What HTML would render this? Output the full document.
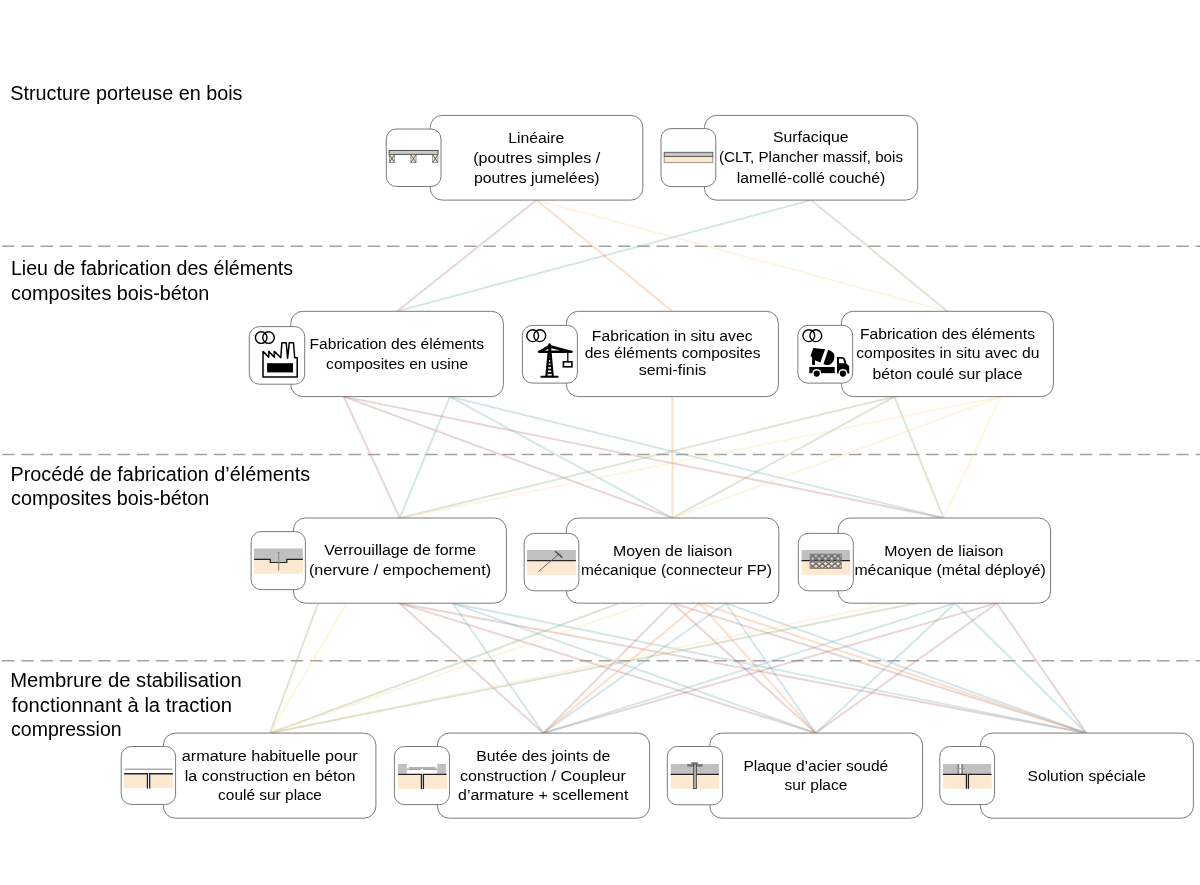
<!DOCTYPE html>
<html><head><meta charset="utf-8"><title>Diagram</title><style>
html,body{margin:0;padding:0;background:#fff;width:1200px;height:885px;overflow:hidden;}
svg{display:block;will-change:transform;}
text{font-family:"Liberation Sans",sans-serif;fill:#000;}
</style></head><body>
<svg width="1200" height="885" viewBox="0 0 1200 885">
<rect width="1200" height="885" fill="#fff"/>

<line x1="2" y1="246.3" x2="1200" y2="246.3" stroke="#a2a2a2" stroke-width="1.5" stroke-dasharray="12.5 6.75"/>
<line x1="2" y1="454.6" x2="1200" y2="454.6" stroke="#a2a2a2" stroke-width="1.5" stroke-dasharray="12.5 6.75"/>
<line x1="2" y1="660.7" x2="1200" y2="660.7" stroke="#a2a2a2" stroke-width="1.5" stroke-dasharray="12.5 6.75"/>
<g stroke-width="1.9" stroke-opacity="0.3" fill="none">
<line x1="536.5" y1="200.1" x2="397.1" y2="311.3" stroke="rgb(182,112,112)"/>
<line x1="536.5" y1="200.1" x2="672.4" y2="311.3" stroke="rgb(242,145,72)"/>
<line x1="536.5" y1="200.1" x2="947.4" y2="311.3" stroke="rgb(255,218,150)"/>
<line x1="811.1" y1="200.1" x2="397.1" y2="311.3" stroke="rgb(112,168,185)"/>
<line x1="811.1" y1="200.1" x2="947.4" y2="311.3" stroke="rgb(138,168,112)"/>
<line x1="343.7" y1="396.6" x2="399.8" y2="518.0" stroke="rgb(182,112,112)"/>
<line x1="343.7" y1="396.6" x2="672.4" y2="518.0" stroke="rgb(182,112,112)"/>
<line x1="343.7" y1="396.6" x2="943.5" y2="518.0" stroke="rgb(182,112,112)"/>
<line x1="449.8" y1="396.6" x2="399.8" y2="518.0" stroke="rgb(112,168,185)"/>
<line x1="449.8" y1="396.6" x2="672.4" y2="518.0" stroke="rgb(112,168,185)"/>
<line x1="449.8" y1="396.6" x2="943.5" y2="518.0" stroke="rgb(112,168,185)"/>
<line x1="894.4" y1="396.6" x2="399.8" y2="518.0" stroke="rgb(138,168,112)"/>
<line x1="894.4" y1="396.6" x2="672.4" y2="518.0" stroke="rgb(138,168,112)"/>
<line x1="894.4" y1="396.6" x2="943.5" y2="518.0" stroke="rgb(138,168,112)"/>
<line x1="1000.8" y1="396.6" x2="399.8" y2="518.0" stroke="rgb(255,218,150)"/>
<line x1="1000.8" y1="396.6" x2="672.4" y2="518.0" stroke="rgb(255,218,150)"/>
<line x1="1000.8" y1="396.6" x2="943.5" y2="518.0" stroke="rgb(255,218,150)"/>
<line x1="672.4" y1="396.6" x2="672.4" y2="518.0" stroke="rgb(242,145,72)"/>
<line x1="318.1" y1="603.2" x2="270.0" y2="733.1" stroke="rgb(138,168,112)"/>
<line x1="346.7" y1="603.2" x2="270.0" y2="733.1" stroke="rgb(255,218,150)"/>
<line x1="399.6" y1="603.2" x2="543.4" y2="733.1" stroke="rgb(182,112,112)"/>
<line x1="399.6" y1="603.2" x2="815.7" y2="733.1" stroke="rgb(182,112,112)"/>
<line x1="399.6" y1="603.2" x2="1086.3" y2="733.1" stroke="rgb(182,112,112)"/>
<line x1="452.7" y1="603.2" x2="543.4" y2="733.1" stroke="rgb(112,168,185)"/>
<line x1="452.7" y1="603.2" x2="815.7" y2="733.1" stroke="rgb(112,168,185)"/>
<line x1="452.7" y1="603.2" x2="1086.3" y2="733.1" stroke="rgb(112,168,185)"/>
<line x1="619.4" y1="603.2" x2="270.0" y2="733.1" stroke="rgb(138,168,112)"/>
<line x1="647.2" y1="603.2" x2="270.0" y2="733.1" stroke="rgb(255,218,150)"/>
<line x1="672.7" y1="603.2" x2="543.4" y2="733.1" stroke="rgb(182,112,112)"/>
<line x1="672.7" y1="603.2" x2="815.7" y2="733.1" stroke="rgb(182,112,112)"/>
<line x1="672.7" y1="603.2" x2="1086.3" y2="733.1" stroke="rgb(182,112,112)"/>
<line x1="699.4" y1="603.2" x2="543.4" y2="733.1" stroke="rgb(242,145,72)"/>
<line x1="699.4" y1="603.2" x2="815.7" y2="733.1" stroke="rgb(242,145,72)"/>
<line x1="699.4" y1="603.2" x2="1086.3" y2="733.1" stroke="rgb(242,145,72)"/>
<line x1="725.8" y1="603.2" x2="543.4" y2="733.1" stroke="rgb(112,168,185)"/>
<line x1="725.8" y1="603.2" x2="815.7" y2="733.1" stroke="rgb(112,168,185)"/>
<line x1="725.8" y1="603.2" x2="1086.3" y2="733.1" stroke="rgb(112,168,185)"/>
<line x1="890.4" y1="603.2" x2="270.0" y2="733.1" stroke="rgb(255,218,150)"/>
<line x1="916.3" y1="603.2" x2="270.0" y2="733.1" stroke="rgb(138,168,112)"/>
<line x1="955.0" y1="603.2" x2="543.4" y2="733.1" stroke="rgb(112,168,185)"/>
<line x1="955.0" y1="603.2" x2="815.7" y2="733.1" stroke="rgb(112,168,185)"/>
<line x1="955.0" y1="603.2" x2="1086.3" y2="733.1" stroke="rgb(112,168,185)"/>
<line x1="996.8" y1="603.2" x2="543.4" y2="733.1" stroke="rgb(182,112,112)"/>
<line x1="996.8" y1="603.2" x2="815.7" y2="733.1" stroke="rgb(182,112,112)"/>
<line x1="996.8" y1="603.2" x2="1086.3" y2="733.1" stroke="rgb(182,112,112)"/>
</g>
<g fill="#fff" stroke="#7a7a7a" stroke-width="1">
<rect x="430.2" y="115.4" width="212.70" height="84.70" rx="12" ry="12"/>
<rect x="386.3" y="129.0" width="54.70" height="57.50" rx="10" ry="10"/>
<rect x="704.5" y="115.4" width="213.20" height="84.70" rx="12" ry="12"/>
<rect x="661.0" y="128.6" width="54.80" height="58.00" rx="10" ry="10"/>
<rect x="290.8" y="311.3" width="212.60" height="85.30" rx="12" ry="12"/>
<rect x="249.3" y="326.6" width="55.40" height="57.60" rx="10" ry="10"/>
<rect x="566.4" y="311.3" width="212.00" height="85.30" rx="12" ry="12"/>
<rect x="522.4" y="325.4" width="55.00" height="57.70" rx="10" ry="10"/>
<rect x="841.4" y="311.3" width="212.00" height="85.30" rx="12" ry="12"/>
<rect x="797.9" y="325.4" width="54.80" height="57.70" rx="10" ry="10"/>
<rect x="293.4" y="518.0" width="213.00" height="85.20" rx="12" ry="12"/>
<rect x="251.1" y="531.6" width="54.30" height="58.00" rx="10" ry="10"/>
<rect x="566.4" y="518.0" width="212.50" height="85.20" rx="12" ry="12"/>
<rect x="524.2" y="533.4" width="54.70" height="57.40" rx="10" ry="10"/>
<rect x="838.1" y="518.0" width="212.50" height="85.20" rx="12" ry="12"/>
<rect x="798.3" y="533.4" width="55.00" height="57.40" rx="10" ry="10"/>
<rect x="163.4" y="733.1" width="212.50" height="85.10" rx="12" ry="12"/>
<rect x="121.2" y="746.5" width="54.40" height="57.90" rx="10" ry="10"/>
<rect x="437.4" y="733.1" width="212.20" height="85.10" rx="12" ry="12"/>
<rect x="394.4" y="746.5" width="55.10" height="58.10" rx="10" ry="10"/>
<rect x="709.8" y="733.1" width="212.80" height="85.10" rx="12" ry="12"/>
<rect x="667.3" y="746.5" width="55.30" height="58.30" rx="10" ry="10"/>
<rect x="980.4" y="733.1" width="213.00" height="85.10" rx="12" ry="12"/>
<rect x="939.8" y="746.5" width="54.70" height="58.10" rx="10" ry="10"/>
</g>
<!-- R1 icon 1: beams -->
<g>
<rect x="389.1" y="150.4" width="49" height="4" fill="#c8c8c8" stroke="#444" stroke-width="0.9"/>
<g fill="#f5e0c6" stroke="#666" stroke-width="0.6">
<rect x="389.3" y="154.6" width="5.2" height="8"/>
<rect x="410.9" y="154.6" width="5.2" height="8"/>
<rect x="432.7" y="154.6" width="5.2" height="8"/>
</g>
<g stroke="#333" stroke-width="0.7">
<path d="M389.3,154.6 L394.5,162.6 M394.5,154.6 L389.3,162.6"/>
<path d="M410.9,154.6 L416.1,162.6 M416.1,154.6 L410.9,162.6"/>
<path d="M432.7,154.6 L437.9,162.6 M437.9,154.6 L432.7,162.6"/>
</g>
</g>
<!-- R1 icon 2: slab -->
<g>
<rect x="664.2" y="156.5" width="48.6" height="6.1" fill="#fde9d0" stroke="#9a8878" stroke-width="0.9"/>
<rect x="664.2" y="152.3" width="48.6" height="4.2" fill="#c4c4c4" stroke="#555" stroke-width="0.9"/>
</g>
<!-- rings -->
<g fill="none" stroke="#000" stroke-width="1.4">
<circle cx="261.2" cy="337.6" r="5.8"/><circle cx="268.5" cy="337.6" r="5.8"/>
<circle cx="532.7" cy="335.7" r="5.9"/><circle cx="539.8" cy="335.7" r="5.9"/>
<circle cx="808.8" cy="335.7" r="5.9"/><circle cx="815.8" cy="335.7" r="5.9"/>
</g>
<!-- factory -->
<path d="M263.0,376.9 L263.0,351.4 L268.7,357.1 L268.7,351.4 L274.3,357.1 L274.3,351.4 L280.8,357.7 L281.9,342.7 L286.2,342.7 L287.6,358.2 L289.3,342.7 L293.5,342.7 L294.7,357.7 L297.2,357.7 L297.2,376.9 Z" fill="none" stroke="#000" stroke-width="1.5" stroke-linejoin="round"/>
<rect x="267.1" y="363.2" width="25.9" height="9.2" fill="#000"/>
<!-- crane -->
<g fill="#000" stroke="#000">
<polygon points="548.2,344.6 550.9,344.6 553.8,375.9 545.3,375.9" stroke="none"/>
<circle cx="549.55" cy="344.5" r="1.2" stroke="none"/>
<line x1="538.9" y1="351.8" x2="571.7" y2="351.8" stroke-width="2.2" stroke-linecap="round"/>
<polygon points="538.2,351.3 548.6,344.9 548.6,352" stroke="none"/>
<polygon points="550.5,344.9 572.3,350.9 550.5,352" stroke="none"/>
<line x1="541.4" y1="376.8" x2="557.7" y2="376.8" stroke-width="1.9" stroke-linecap="round"/>
<line x1="567.8" y1="352" x2="567.8" y2="361.6" stroke-width="1.3"/>
<rect x="563.4" y="361.8" width="8.5" height="5" fill="#fff" stroke-width="1.6"/>
</g>
<g fill="#fff">
<rect x="549.1" y="357" width="0.6" height="0.6"/>
<polygon points="545.2,350.8 548.2,348.7 548.2,350.8"/>
<polygon points="551.3,348.3 560.2,350.6 551.3,350.6"/>
<rect x="549.0" y="360.1" width="1.1" height="1.8"/>
<rect x="548.7" y="363.5" width="1.8" height="1.6"/>
<rect x="548.2" y="367.1" width="2.7" height="1.6"/>
<rect x="548.0" y="370.5" width="3.2" height="1.6"/>
<rect x="547.5" y="373.9" width="4.2" height="1.6"/>
</g>
<!-- truck -->
<g fill="#000">
<path d="M813.3,348.1 L825.1,349.2 L820.3,362.5 L815,360.2 L815,365 L812.1,365 L812.1,357.4 L810.5,356 Z"/>
<path d="M828.2,349.8 Q835.6,352.2 834.3,358.2 Q832.8,365.2 826.6,365 L823.4,364.3 Z"/>
<rect x="809.3" y="367" width="25.4" height="6.2"/>
<path d="M837,373.6 L837,357.1 L842.3,357.1 Q844.6,357.3 845.3,359.6 L846.3,363.4 L848.6,365.6 Q849.2,366.3 849.2,367.5 L849.2,373.6 Z"/>
</g>
<path d="M839,358.8 L843.2,358.8 L844.3,363.3 L839,363.3 Z" fill="#fff"/>
<circle cx="816.7" cy="373.4" r="4.5" fill="#fff"/>
<circle cx="842.9" cy="373.4" r="4.5" fill="#fff"/>
<circle cx="816.7" cy="373.6" r="3.1" fill="#000"/>
<circle cx="842.9" cy="373.6" r="3.1" fill="#000"/>
<!-- R3 icon1: verrouillage -->
<g>
<rect x="254" y="548.5" width="48.9" height="14" fill="#c0c0c0"/>
<polygon points="254,559.3 270.3,559.3 270.3,562.5 286.8,562.5 286.8,559.3 302.9,559.3 302.9,573.8 254,573.8" fill="#fde9d0"/>
<polyline points="254,559.3 270.3,559.3 270.3,562.5 286.8,562.5 286.8,559.3 302.9,559.3" fill="none" stroke="#222" stroke-width="1.2"/>
<line x1="278.7" y1="552.1" x2="278.7" y2="570.6" stroke="#8a8a8a" stroke-width="1.1"/>
<line x1="277.7" y1="552.4" x2="279.7" y2="552.4" stroke="#8a8a8a" stroke-width="0.8"/>
</g>
<!-- R3 icon2: connector -->
<g>
<rect x="527.1" y="550" width="48.8" height="10.7" fill="#c0c0c0"/>
<rect x="527.1" y="560.7" width="48.8" height="14.1" fill="#fde9d0"/>
<line x1="527.1" y1="560.7" x2="575.9" y2="560.7" stroke="#2a2a2a" stroke-width="1.2"/>
<line x1="538.3" y1="571.6" x2="558" y2="554.9" stroke="#666" stroke-width="1.0"/>
<line x1="559.8" y1="553.2" x2="561.3" y2="554.6" stroke="#8a8a8a" stroke-width="0.9"/>
<line x1="555.2" y1="551.2" x2="562.4" y2="557.8" stroke="#444" stroke-width="1.4"/>
</g>
<!-- R3 icon3: mesh -->
<defs><clipPath id="mc"><rect x="810.1" y="554.2" width="31.1" height="14.2"/></clipPath></defs>
<g>
<rect x="801.6" y="550" width="48.4" height="10.6" fill="#c0c0c0"/>
<rect x="801.6" y="560.6" width="48.4" height="14.2" fill="#fde9d0"/>
<line x1="801.6" y1="560.6" x2="850" y2="560.6" stroke="#222" stroke-width="1.2"/>
<g clip-path="url(#mc)" stroke="#707070" stroke-width="1.5">
<line x1="776.66" y1="552.2" x2="799.14" y2="570.4"/>
<line x1="786.04" y1="552.2" x2="763.56" y2="570.4"/>
<line x1="782.96" y1="552.2" x2="805.44" y2="570.4"/>
<line x1="792.34" y1="552.2" x2="769.86" y2="570.4"/>
<line x1="789.26" y1="552.2" x2="811.74" y2="570.4"/>
<line x1="798.64" y1="552.2" x2="776.16" y2="570.4"/>
<line x1="795.56" y1="552.2" x2="818.04" y2="570.4"/>
<line x1="804.94" y1="552.2" x2="782.46" y2="570.4"/>
<line x1="801.86" y1="552.2" x2="824.34" y2="570.4"/>
<line x1="811.24" y1="552.2" x2="788.76" y2="570.4"/>
<line x1="808.16" y1="552.2" x2="830.64" y2="570.4"/>
<line x1="817.54" y1="552.2" x2="795.06" y2="570.4"/>
<line x1="814.46" y1="552.2" x2="836.94" y2="570.4"/>
<line x1="823.84" y1="552.2" x2="801.36" y2="570.4"/>
<line x1="820.76" y1="552.2" x2="843.24" y2="570.4"/>
<line x1="830.14" y1="552.2" x2="807.66" y2="570.4"/>
<line x1="827.06" y1="552.2" x2="849.54" y2="570.4"/>
<line x1="836.44" y1="552.2" x2="813.96" y2="570.4"/>
<line x1="833.36" y1="552.2" x2="855.84" y2="570.4"/>
<line x1="842.74" y1="552.2" x2="820.26" y2="570.4"/>
<line x1="839.66" y1="552.2" x2="862.14" y2="570.4"/>
<line x1="849.04" y1="552.2" x2="826.56" y2="570.4"/>
<line x1="845.96" y1="552.2" x2="868.44" y2="570.4"/>
<line x1="855.34" y1="552.2" x2="832.86" y2="570.4"/>
<line x1="852.26" y1="552.2" x2="874.74" y2="570.4"/>
<line x1="861.64" y1="552.2" x2="839.16" y2="570.4"/>
<line x1="858.56" y1="552.2" x2="881.04" y2="570.4"/>
<line x1="867.94" y1="552.2" x2="845.46" y2="570.4"/>
<line x1="864.86" y1="552.2" x2="887.34" y2="570.4"/>
<line x1="874.24" y1="552.2" x2="851.76" y2="570.4"/>
<line x1="871.16" y1="552.2" x2="893.64" y2="570.4"/>
<line x1="880.54" y1="552.2" x2="858.06" y2="570.4"/>
</g>
<rect x="810.1" y="554.2" width="31.1" height="14.2" fill="none" stroke="#7a7a7a" stroke-width="0.9"/>
</g>
<!-- R4 icon1 -->
<g>
<rect x="124.1" y="774.2" width="22.6" height="13.8" fill="#fde9d0"/>
<rect x="150.9" y="774.2" width="22" height="13.8" fill="#fde9d0"/>
<line x1="124.7" y1="769.2" x2="172.2" y2="769.2" stroke="#aaa" stroke-width="1.4"/>
<polyline points="124.1,773.75 147.4,773.75 147.4,788.4" fill="none" stroke="#222" stroke-width="1.3"/>
<polyline points="149.7,788.4 149.7,773.75 172.9,773.75" fill="none" stroke="#222" stroke-width="1.3"/>
</g>
<!-- R4 icon2 -->
<g>
<rect x="398" y="774.9" width="22.4" height="14" fill="#fde9d0"/>
<rect x="424.1" y="774.9" width="22.7" height="14" fill="#fde9d0"/>
<rect x="398" y="763.9" width="8.8" height="9.9" fill="#c0c0c0"/>
<rect x="437.2" y="763.9" width="8.9" height="9.9" fill="#c0c0c0"/>
<rect x="409" y="767.0" width="26.6" height="1.9" fill="#b4b4b4"/>
<rect x="406.8" y="768.6" width="14.3" height="1.4" fill="#a4a4a4"/>
<rect x="423.2" y="768.6" width="14" height="1.4" fill="#a4a4a4"/>
<polyline points="398,774.4 421.4,774.4 421.4,788.9" fill="none" stroke="#222" stroke-width="1.3"/>
<polyline points="423.4,788.9 423.4,774.4 446.6,774.4" fill="none" stroke="#222" stroke-width="1.3"/>
</g>
<!-- R4 icon3 -->
<g>
<rect x="670.75" y="764" width="48.15" height="10.3" fill="#c0c0c0"/>
<rect x="670.75" y="774.3" width="48.15" height="14.4" fill="#fde9d0"/>
<line x1="670.75" y1="774.3" x2="718.9" y2="774.3" stroke="#222" stroke-width="1.2"/>
<rect x="687.2" y="764" width="15.4" height="2.7" fill="#7a7a7a"/>
<rect x="691.1" y="762.1" width="6.9" height="2" fill="#8a8a8a"/>
<rect x="693.4" y="764" width="3.2" height="24.7" fill="#aaa" stroke="#333" stroke-width="0.7"/>
</g>
<!-- R4 icon4 -->
<g>
<rect x="943" y="764" width="48.1" height="10.3" fill="#c0c0c0"/>
<rect x="959.2" y="764" width="2.1" height="10.3" fill="#fff"/>
<rect x="957.6" y="764" width="1.6" height="10.3" fill="#808080"/>
<rect x="961.3" y="764" width="1.6" height="10.3" fill="#808080"/>
<line x1="955.8" y1="768.4" x2="965" y2="768.4" stroke="#999" stroke-width="0.8"/>
<rect x="943" y="774.7" width="22.7" height="14" fill="#fde9d0"/>
<rect x="969.1" y="774.7" width="22.7" height="14" fill="#fde9d0"/>
<polyline points="943,774.4 966.4,774.4 966.4,788.7" fill="none" stroke="#222" stroke-width="1.3"/>
<polyline points="968.4,788.7 968.4,774.4 991.6,774.4" fill="none" stroke="#222" stroke-width="1.3"/>
</g>

<text x="10.26" y="99.80" font-size="19.6" textLength="232.27" lengthAdjust="spacingAndGlyphs">Structure porteuse en bois</text>
<text x="10.95" y="274.75" font-size="19.6" textLength="282.17" lengthAdjust="spacingAndGlyphs">Lieu de fabrication des éléments</text>
<text x="11.08" y="299.75" font-size="19.6" textLength="198.28" lengthAdjust="spacingAndGlyphs">composites bois-béton</text>
<text x="10.46" y="481.30" font-size="19.6" textLength="299.75" lengthAdjust="spacingAndGlyphs">Procédé de fabrication d’éléments</text>
<text x="11.08" y="505.30" font-size="19.6" textLength="198.28" lengthAdjust="spacingAndGlyphs">composites bois-béton</text>
<text x="10.19" y="687.30" font-size="19.6" textLength="231.47" lengthAdjust="spacingAndGlyphs">Membrure de stabilisation</text>
<text x="11.73" y="711.60" font-size="19.6" textLength="220.34" lengthAdjust="spacingAndGlyphs">fonctionnant à la traction</text>
<text x="11.12" y="736.10" font-size="19.6" textLength="110.53" lengthAdjust="spacingAndGlyphs">compression</text>
<text x="508.28" y="142.50" font-size="15.5" textLength="56.08" lengthAdjust="spacingAndGlyphs">Linéaire</text>
<text x="473.24" y="162.90" font-size="15.5" textLength="126.94" lengthAdjust="spacingAndGlyphs">(poutres simples /</text>
<text x="473.91" y="183.30" font-size="15.5" textLength="125.71" lengthAdjust="spacingAndGlyphs">poutres jumelées)</text>
<text x="773.08" y="142.20" font-size="15.5" textLength="75.40" lengthAdjust="spacingAndGlyphs">Surfacique</text>
<text x="719.03" y="162.20" font-size="15.5" textLength="184.06" lengthAdjust="spacingAndGlyphs">(CLT, Plancher massif, bois</text>
<text x="736.79" y="182.50" font-size="15.5" textLength="148.55" lengthAdjust="spacingAndGlyphs">lamellé-collé couché)</text>
<text x="309.49" y="349.00" font-size="15.5" textLength="174.51" lengthAdjust="spacingAndGlyphs">Fabrication des éléments</text>
<text x="326.10" y="368.75" font-size="15.5" textLength="141.99" lengthAdjust="spacingAndGlyphs">composites en usine</text>
<text x="591.88" y="340.80" font-size="15.5" textLength="160.62" lengthAdjust="spacingAndGlyphs">Fabrication in situ avec</text>
<text x="584.65" y="358.20" font-size="15.5" textLength="175.95" lengthAdjust="spacingAndGlyphs">des éléments composites</text>
<text x="638.65" y="375.40" font-size="15.5" textLength="67.57" lengthAdjust="spacingAndGlyphs">semi-finis</text>
<text x="859.90" y="338.70" font-size="15.5" textLength="175.09" lengthAdjust="spacingAndGlyphs">Fabrication des éléments</text>
<text x="856.23" y="358.30" font-size="15.5" textLength="183.18" lengthAdjust="spacingAndGlyphs">composites in situ avec du</text>
<text x="872.48" y="378.70" font-size="15.5" textLength="150.08" lengthAdjust="spacingAndGlyphs">béton coulé sur place</text>
<text x="324.32" y="555.30" font-size="15.5" textLength="151.76" lengthAdjust="spacingAndGlyphs">Verrouillage de forme</text>
<text x="308.90" y="575.00" font-size="15.5" textLength="182.16" lengthAdjust="spacingAndGlyphs">(nervure / empochement)</text>
<text x="612.98" y="555.80" font-size="15.5" textLength="119.28" lengthAdjust="spacingAndGlyphs">Moyen de liaison</text>
<text x="580.88" y="575.00" font-size="15.5" textLength="190.99" lengthAdjust="spacingAndGlyphs">mécanique (connecteur FP)</text>
<text x="884.18" y="555.80" font-size="15.5" textLength="119.26" lengthAdjust="spacingAndGlyphs">Moyen de liaison</text>
<text x="854.40" y="575.00" font-size="15.5" textLength="191.35" lengthAdjust="spacingAndGlyphs">mécanique (métal déployé)</text>
<text x="181.84" y="760.50" font-size="15.5" textLength="175.74" lengthAdjust="spacingAndGlyphs">armature habituelle pour</text>
<text x="184.75" y="780.50" font-size="15.5" textLength="170.62" lengthAdjust="spacingAndGlyphs">la construction en béton</text>
<text x="218.11" y="799.70" font-size="15.5" textLength="103.85" lengthAdjust="spacingAndGlyphs">coulé sur place</text>
<text x="476.34" y="760.50" font-size="15.5" textLength="133.83" lengthAdjust="spacingAndGlyphs">Butée des joints de</text>
<text x="460.04" y="780.50" font-size="15.5" textLength="165.86" lengthAdjust="spacingAndGlyphs">construction / Coupleur</text>
<text x="458.08" y="799.70" font-size="15.5" textLength="170.23" lengthAdjust="spacingAndGlyphs">d’armature + scellement</text>
<text x="743.41" y="770.80" font-size="15.5" textLength="144.74" lengthAdjust="spacingAndGlyphs">Plaque d’acier soudé</text>
<text x="784.44" y="790.30" font-size="15.5" textLength="62.91" lengthAdjust="spacingAndGlyphs">sur place</text>
<text x="1027.49" y="780.70" font-size="15.5" textLength="118.37" lengthAdjust="spacingAndGlyphs">Solution spéciale</text>
</svg>
</body></html>
